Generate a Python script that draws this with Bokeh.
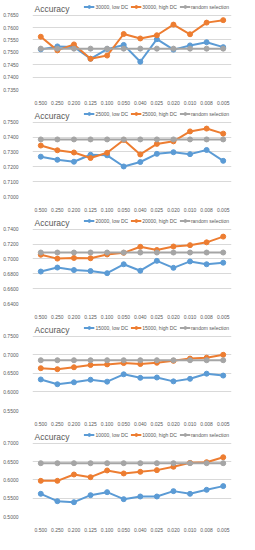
from bokeh.plotting import figure
from bokeh.layouts import column
from bokeh.models import FactorRange, Range1d, FixedTicker, PrintfTickFormatter, Legend, LegendItem, Label
from bokeh.embed import file_html
from bokeh.resources import INLINE

dc = ["0.500", "0.250", "0.200", "0.125", "0.100", "0.050",
      "0.040", "0.025", "0.020", "0.010", "0.008", "0.005"]

sizes = ["30000", "25000", "20000", "15000", "10000"]

low_30000 = [0.7512, 0.7524, 0.7522, 0.7474, 0.7513, 0.7530, 0.7462, 0.7553, 0.7511, 0.7528, 0.7541, 0.7521]
high_30000 = [0.7563, 0.7508, 0.7532, 0.7474, 0.7487, 0.7574, 0.7556, 0.7569, 0.7612, 0.7573, 0.7620, 0.7630]
rand_30000 = 0.7515

low_25000 = [0.7268, 0.7247, 0.7234, 0.7281, 0.7277, 0.7202, 0.7232, 0.7287, 0.7298, 0.7285, 0.7313, 0.7240]
high_25000 = [0.7343, 0.7311, 0.7296, 0.7259, 0.7294, 0.7380, 0.7283, 0.7354, 0.7371, 0.7438, 0.7457, 0.7423]
rand_25000 = 0.7384

low_20000 = [0.6830, 0.6884, 0.6850, 0.6837, 0.6808, 0.6928, 0.6841, 0.6974, 0.6880, 0.6966, 0.6928, 0.6949]
high_20000 = [0.7056, 0.7004, 0.7013, 0.7009, 0.7060, 0.7082, 0.7163, 0.7120, 0.7167, 0.7185, 0.7223, 0.7300]
rand_20000 = 0.7086

low_15000 = [0.6336, 0.6207, 0.6259, 0.6328, 0.6276, 0.6474, 0.6379, 0.6388, 0.6284, 0.6353, 0.6491, 0.6440]
high_15000 = [0.6638, 0.6612, 0.6664, 0.6724, 0.6741, 0.6776, 0.6750, 0.6784, 0.6836, 0.6897, 0.6922, 0.7000]
rand_15000 = 0.6853

low_10000 = [0.5619, 0.5418, 0.5390, 0.5582, 0.5664, 0.5473, 0.5546, 0.5546, 0.5692, 0.5619, 0.5728, 0.5829]
high_10000 = [0.5973, 0.5973, 0.6146, 0.6073, 0.6256, 0.6174, 0.6219, 0.6265, 0.6356, 0.6464, 0.6482, 0.6616]
rand_10000 = 0.6454

y_ticks_30000 = [0.7350, 0.7400, 0.7450, 0.7500, 0.7550, 0.7600, 0.7650]
y_ticks_25000 = [0.7000, 0.7100, 0.7200, 0.7300, 0.7400, 0.7500]
y_ticks_20000 = [0.6400, 0.6600, 0.6800, 0.7000, 0.7200, 0.7400]
y_ticks_15000 = [0.5500, 0.6000, 0.6500, 0.7000, 0.7500]
y_ticks_10000 = [0.5000, 0.5500, 0.6000, 0.6500, 0.7000]

panels = [
    ("30000", low_30000, high_30000, rand_30000, y_ticks_30000),
    ("25000", low_25000, high_25000, rand_25000, y_ticks_25000),
    ("20000", low_20000, high_20000, rand_20000, y_ticks_20000),
    ("15000", low_15000, high_15000, rand_15000, y_ticks_15000),
    ("10000", low_10000, high_10000, rand_10000, y_ticks_10000),
]

BLUE = "#5B9BD5"
ORANGE = "#ED7D31"
GRAY = "#A5A5A5"
TXT = "#595959"
FONT = "Liberation Sans"
W = 239
HEIGHTS = [107, 107, 107, 107, 106]
TOP = 1          # border above frame
BOTTOM = 16      # room for x labels
HEAD = 14        # header band (title + legend) inside frame, px

figs = []
for (size, low, high, rnd, yt), H in zip(panels, HEIGHTS):
    plot_px = H - TOP - BOTTOM - HEAD
    span = yt[-1] - yt[0]
    y_end = yt[-1] + span * HEAD / plot_px
    p = figure(width=W, height=H, x_range=FactorRange(*dc),
               y_range=Range1d(yt[0], y_end),
               output_backend="svg", toolbar_location=None,
               min_border_left=25, min_border_right=8,
               min_border_top=TOP, min_border_bottom=BOTTOM)
    p.outline_line_color = None
    p.xgrid.grid_line_color = None
    p.ygrid.grid_line_color = "#D9D9D9"
    p.yaxis.ticker = FixedTicker(ticks=yt)
    p.yaxis.formatter = PrintfTickFormatter(format="%.4f")
    for ax in (p.xaxis[0], p.yaxis[0]):
        ax.axis_line_color = None
        ax.major_tick_line_color = None
        ax.minor_tick_line_color = None
        ax.major_label_text_font = FONT
        ax.major_label_text_font_size = "5px"
        ax.major_label_text_color = TXT
    p.yaxis.major_label_standoff = 8
    p.xaxis.major_label_standoff = 5

    rl = p.line(dc, low, line_color=BLUE, line_width=2)
    rlm = p.scatter(dc, low, size=5, fill_color=BLUE, line_color=BLUE)
    rh = p.line(dc, high, line_color=ORANGE, line_width=2)
    rhm = p.scatter(dc, high, size=5, fill_color=ORANGE, line_color=ORANGE)
    rv = [rnd] * len(dc)
    rr = p.line(dc, rv, line_color=GRAY, line_width=2)
    rrm = p.scatter(dc, rv, size=5, fill_color=GRAY, line_color=GRAY)

    title = Label(x=2, x_units="screen", y=y_end, y_units="data",
                  text="Accuracy", text_font=FONT, text_font_size="8.5px",
                  text_color=TXT, text_baseline="top", y_offset=-2)
    p.add_layout(title)

    legend = Legend(items=[
        LegendItem(label=f"{size}, low DC", renderers=[rl, rlm]),
        LegendItem(label=f"{size}, high DC", renderers=[rh, rhm]),
        LegendItem(label="random selection", renderers=[rr, rrm]),
    ], orientation="horizontal", location="top_right")
    legend.label_text_font = FONT
    legend.label_text_font_size = "5px"
    legend.label_text_color = TXT
    legend.label_standoff = 1
    legend.label_height = 7
    legend.label_width = 0
    legend.glyph_width = 11
    legend.glyph_height = 7
    legend.spacing = 2
    legend.padding = 0
    legend.margin = 2
    legend.border_line_color = None
    legend.background_fill_alpha = 0
    p.add_layout(legend)
    figs.append(p)

layout = column(*figs, spacing=0)
open("out.html", "w").write(file_html(layout, INLINE))
